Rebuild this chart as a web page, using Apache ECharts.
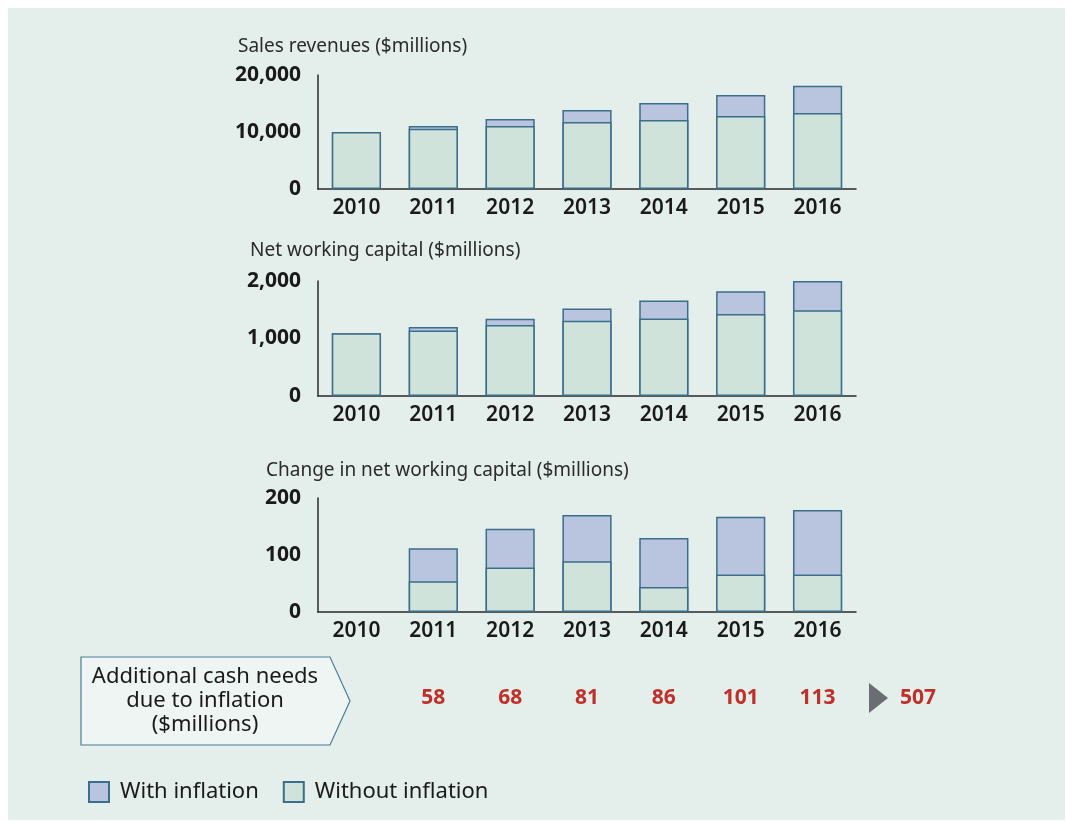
<!DOCTYPE html>
<html>
<head>
<meta charset="utf-8">
<script src="https://cdn.jsdelivr.net/npm/echarts@6/dist/echarts.min.js"></script>
<style>
  html, body { margin: 0; padding: 0; background: #fff; }
  #main { width: 1067px; height: 824px; }
</style>
</head>
<body>
<div id="main"></div>
<script>
var years = ['2010', '2011', '2012', '2013', '2014', '2015', '2016'];

// sales revenues ($millions)
var salesWith = [10000, 11050, 12300, 13850, 15100, 16500, 18100];
var salesWithout = [10000, 10550, 11050, 11750, 12100, 12800, 13350];

// net working capital ($millions)
var nwcWith = [1090, 1200, 1345, 1520, 1660, 1820, 2000];
var nwcWithout = [1090, 1140, 1235, 1310, 1350, 1425, 1490];

// change in net working capital ($millions)
var chgWith = ['-', 112, 146, 170, 130, 167, 179];
var chgWithout = ['-', 54, 78, 89, 44, 66, 66];

// additional cash needs due to inflation
var cashNeeds = ['', 58, 68, 81, 86, 101, 113];

var salesTicks = { max: 20000, interval: 10000 };
var nwcTicks = { max: 2000, interval: 1000 };
var chgTicks = { max: 200, interval: 100 };

var FONT = '"Noto Sans", sans-serif';
var colWith = '#b9c4df';
var colWithout = '#cfe3db';
var edge = '#3b6e8b';

var total = 0;
cashNeeds.forEach(function (v) { if (v !== '') total += v; });

var grids = [
    { left: 318, top: 75, width: 538, height: 114 },
    { left: 318, top: 281, width: 538, height: 115 },
    { left: 318, top: 498, width: 538, height: 114 },
    { left: 318, top: 687, width: 538, height: 1 }
];

function xAxisFor(i) {
    return {
        type: 'category', gridIndex: i, data: years,
        axisLine: { lineStyle: { color: '#2a2a2a', width: 1.5 } },
        axisTick: { show: false },
        axisLabel: { color: '#1a1a1a', fontSize: 21, fontFamily: FONT, fontWeight: 600, margin: 9 }
    };
}
function yAxisFor(i, t) {
    return {
        type: 'value', gridIndex: i, min: 0, max: t.max, interval: t.interval,
        axisLine: { show: true, lineStyle: { color: '#2a2a2a', width: 1.5 } },
        axisTick: { show: false },
        splitLine: { show: false },
        axisLabel: {
            color: '#1a1a1a', fontSize: 21, fontFamily: FONT, fontWeight: 'bold', margin: 17,
            formatter: function (v) { return v.toLocaleString('en-US'); }
        }
    };
}
function pair(i, withData, withoutData) {
    return [{
        name: 'With inflation', type: 'bar', xAxisIndex: i, yAxisIndex: i,
        data: withData, barWidth: '64%', barGap: '-100%',
        itemStyle: { color: colWith, borderColor: edge, borderWidth: 1.5 }
    }, {
        name: 'Without inflation', type: 'bar', xAxisIndex: i, yAxisIndex: i,
        data: withoutData, barWidth: '64%', barGap: '-100%',
        itemStyle: { color: colWithout, borderColor: edge, borderWidth: 1.5 }
    }];
}

var titleFont = '19px ' + FONT;

var chart = echarts.init(document.getElementById('main'));
var option = {
    backgroundColor: '#ffffff',
    animation: false,
    grid: grids,
    xAxis: [xAxisFor(0), xAxisFor(1), xAxisFor(2), {
        type: 'category', gridIndex: 3, data: cashNeeds,
        axisLine: { show: false }, axisTick: { show: false },
        axisLabel: { color: '#c0302a', fontSize: 21, fontFamily: FONT, fontWeight: 'bold', margin: 0 }
    }],
    yAxis: [yAxisFor(0, salesTicks), yAxisFor(1, nwcTicks), yAxisFor(2, chgTicks),
        { type: 'value', gridIndex: 3, show: false }],
    legend: {
        left: 83, top: 776, itemWidth: 20, itemHeight: 20, itemGap: 24,
        icon: 'rect',
        data: ['With inflation', 'Without inflation'],
        textStyle: { color: '#1a1a1a', fontSize: 22, fontFamily: FONT, padding: [0, 0, 0, 6] }
    },
    graphic: [
        { type: 'rect', z: -10, shape: { x: 8, y: 8, width: 1057, height: 812 }, style: { fill: '#e4eeea' } },
        { type: 'text', left: 238, top: 37, style: { text: 'Sales revenues ($millions)', fill: '#2b2b2b', font: titleFont } },
        { type: 'text', left: 250, top: 241, style: { text: 'Net working capital ($millions)', fill: '#2b2b2b', font: titleFont } },
        { type: 'text', left: 266, top: 461, style: { text: 'Change in net working capital ($millions)', fill: '#2b2b2b', font: titleFont } },
        {
            type: 'polygon',
            shape: { points: [[81, 657], [330, 657], [350, 701], [330, 745], [81, 745]] },
            style: { fill: '#eef5f3', stroke: '#4c7d93', lineWidth: 1.2 }
        },
        {
            type: 'text', x: 205, y: 701,
            style: {
                text: 'Additional cash needs\ndue to inflation\n($millions)',
                fill: '#1a1a1a', font: '22px ' + FONT, align: 'center', verticalAlign: 'middle', lineHeight: 24
            }
        },
        { type: 'polygon', shape: { points: [[869, 683], [888, 698], [869, 713]] }, style: { fill: '#6a6e72' } },
        {
            type: 'text', x: 918, y: 698,
            style: { text: String(total), fill: '#c0302a', font: 'bold 21px ' + FONT, align: 'center', verticalAlign: 'middle' }
        }
    ],
    series: [].concat(
        pair(0, salesWith, salesWithout),
        pair(1, nwcWith, nwcWithout),
        pair(2, chgWith, chgWithout)
    )
};
chart.setOption(option);
</script>
</body>
</html>
